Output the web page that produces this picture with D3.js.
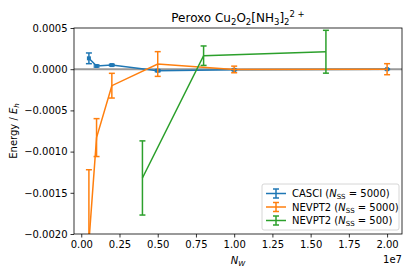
<!DOCTYPE html>
<html><head><meta charset="utf-8">
<script src="https://cdn.jsdelivr.net/npm/d3@7"></script>
<style>body{margin:0;background:#fff}svg{display:block;font-family:"DejaVu Sans",sans-serif}</style>
</head><body><svg id="c" width="415" height="277"></svg>
<script>
const nwCasci = [5e5, 1e6, 2e6, 5e6, 1e7, 2e7];
const eCasci = [1.32e-4, 3.9e-5, 5.0e-5, -1.8e-5, -8e-6, 0];
const errCasci = [6.5e-5, 1.2e-5, 1.0e-5, 1.2e-5, 8e-6, 5e-6];
const nwNev = [5e5, 1e6, 2e6, 5e6, 1e7, 2e7];
const eNev = [-2.1e-3, -8.3e-4, -2.0e-4, 6.3e-5, -3e-6, 0];
const errNev = [8.8e-4, 2.3e-4, 1.5e-4, 1.5e-4, 4e-5, 6.7e-5];
const nwNev500 = [4e6, 8e6, 1.6e7];
const eNev500 = [-1.32e-3, 1.64e-4, 2.12e-4];
const errNev500 = [4.5e-4, 1.18e-4, 2.6e-4];
const xTicks = [0, 2.5e6, 5e6, 7.5e6, 1e7, 1.25e7, 1.5e7, 1.75e7, 2e7];
const xTickLabels = ["0.00","0.25","0.50","0.75","1.00","1.25","1.50","1.75","2.00"];
const yTicks = [5e-4, 0, -5e-4, -1e-3, -1.5e-3, -2e-3];
const yTickLabels = ["0.0005","0.0000","\u22120.0005","\u22120.0010","\u22120.0015","\u22120.0020"];

const series = [
  {nw: nwCasci, e: eCasci, err: errCasci, color: "#1f77b4", marker: true, label: ["CASCI (", "5000)"]},
  {nw: nwNev, e: eNev, err: errNev, color: "#ff7f0e", marker: false, label: ["NEVPT2 (", "5000)"]},
  {nw: nwNev500, e: eNev500, err: errNev500, color: "#2ca02c", marker: false, label: ["NEVPT2 (", "500)"]}
];

const L = 74, R = 402, T = 28, B = 234;
const svg = d3.select("#c");
const x = d3.scaleLinear().domain([-4.75e5, 2.0975e7]).range([L, R]);
const y = d3.scaleLinear().domain([-2e-3, 5e-4]).range([B, T]);

svg.append("defs").append("clipPath").attr("id", "clip")
  .append("rect").attr("x", L).attr("y", T).attr("width", R - L).attr("height", B - T);

// zero line
svg.append("line").attr("x1", L).attr("x2", R).attr("y1", y(0)).attr("y2", y(0))
  .attr("stroke", "#808080").attr("stroke-width", 2).attr("opacity", 0.8);

const g = svg.append("g").attr("clip-path", "url(#clip)");
const line = d3.line().x(d => x(d[0])).y(d => y(d[1]));
series.forEach(s => {
  const pts = s.nw.map((v, i) => [v, s.e[i], s.err[i]]);
  const sg = g.append("g");
  sg.append("path").attr("d", line(pts)).attr("fill", "none")
    .attr("stroke", s.color).attr("stroke-width", 1.5);
  pts.forEach(p => {
    const cx = x(p[0]), y1 = y(p[1] + p[2]), y2 = y(p[1] - p[2]);
    sg.append("line").attr("x1", cx).attr("x2", cx).attr("y1", y1).attr("y2", y2)
      .attr("stroke", s.color).attr("stroke-width", 1.5);
    [y1, y2].forEach(cy => sg.append("line").attr("x1", cx - 3).attr("x2", cx + 3)
      .attr("y1", cy).attr("y2", cy).attr("stroke", s.color).attr("stroke-width", 1.5));
    if (s.marker) sg.append("rect").attr("x", cx - 2).attr("y", y(p[1]) - 2)
      .attr("width", 4).attr("height", 4).attr("fill", s.color);
  });
});

// axes
const xAxis = d3.axisBottom(x).tickValues(xTicks).tickFormat((d, i) => xTickLabels[i]).tickSize(3.5).tickPadding(3);
const yAxis = d3.axisLeft(y).tickValues(yTicks).tickFormat((d, i) => yTickLabels[i]).tickSize(3.5).tickPadding(3);
const gx = svg.append("g").attr("transform", `translate(0,${B})`).call(xAxis);
const gy = svg.append("g").attr("transform", `translate(${L},0)`).call(yAxis);
[gx, gy].forEach(a => {
  a.select(".domain").remove();
  a.selectAll("text").attr("font-size", 10).attr("fill", "#000").attr("font-family", "DejaVu Sans");
  a.selectAll("line").attr("stroke", "#000").attr("stroke-width", 0.8);
});
svg.append("rect").attr("x", L).attr("y", T).attr("width", R - L).attr("height", B - T)
  .attr("fill", "none").attr("stroke", "#000").attr("stroke-width", 0.8);

// offset text
svg.append("text").attr("x", R).attr("y", 263).attr("text-anchor", "end")
  .attr("font-size", 10).text("1e7");

// x label
const xl = svg.append("text").attr("x", (L + R) / 2).attr("y", 264).attr("text-anchor", "middle").attr("font-size", 10);
xl.append("tspan").attr("font-style", "italic").text("N");
xl.append("tspan").attr("font-style", "italic").attr("font-size", 7).attr("dy", 2).text("W");

// y label
const yl = svg.append("text").attr("transform", `translate(17,${(T + B) / 2}) rotate(-90)`)
  .attr("text-anchor", "middle").attr("font-size", 10);
yl.append("tspan").text("Energy / ");
yl.append("tspan").attr("font-style", "italic").text("E");
yl.append("tspan").attr("font-style", "italic").attr("font-size", 7).attr("dy", 2).text("h");

// title
const tt = svg.append("text").attr("x", (L + R) / 2).attr("y", 22).attr("text-anchor", "middle").attr("font-size", 12);
const parts = [["Peroxo Cu",0],["2",1],["O",0],["2",1],["[NH",0],["3",1],["]",0],["2",1],["2 +",2]];
let cur = 0;
parts.forEach(([t, k]) => {
  const target = k === 1 ? 2.5 : (k === 2 ? -5 : 0);
  tt.append("tspan").attr("dy", target - cur).attr("font-size", k ? 8.5 : 12).text(t);
  cur = target;
});

// legend
const lg = svg.append("g");
lg.append("rect").attr("x", 262).attr("y", 184).attr("width", 137).attr("height", 46)
  .attr("rx", 2).attr("fill", "#fff").attr("fill-opacity", 0.8).attr("stroke", "#ccc").attr("stroke-width", 0.8);
series.forEach((s, i) => {
  const cy = 193.5 + i * 13.5;
  lg.append("line").attr("x1", 266).attr("x2", 286).attr("y1", cy).attr("y2", cy).attr("stroke", s.color).attr("stroke-width", 1.5);
  lg.append("line").attr("x1", 276).attr("x2", 276).attr("y1", cy - 4.5).attr("y2", cy + 4.5).attr("stroke", s.color).attr("stroke-width", 1.5);
  [cy - 4.5, cy + 4.5].forEach(v => lg.append("line").attr("x1", 273).attr("x2", 279).attr("y1", v).attr("y2", v).attr("stroke", s.color).attr("stroke-width", 1.5));
  const t = lg.append("text").attr("x", 292).attr("y", cy + 3.5).attr("font-size", 10);
  t.append("tspan").text(s.label[0]);
  t.append("tspan").attr("font-style", "italic").text("N");
  t.append("tspan").attr("font-size", 7).attr("dy", 2).text("SS");
  t.append("tspan").attr("dy", -2).text(" = " + s.label[1]);
});
</script></body></html>
